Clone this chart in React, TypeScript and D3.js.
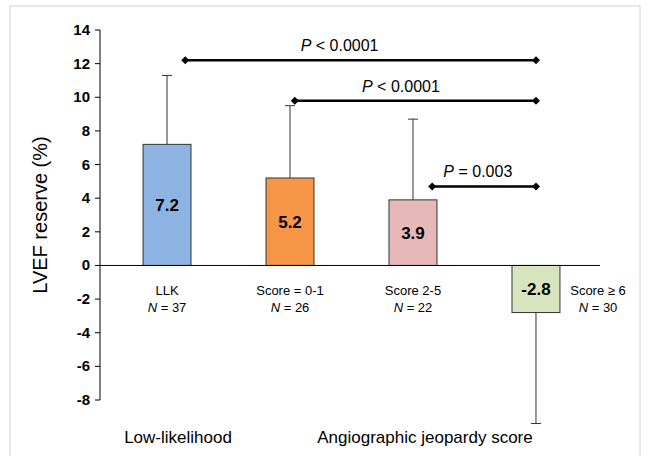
import * as d3 from 'd3';

const categories = ['LLK', 'Score = 0-1', 'Score 2-5', 'Score ≥ 6'];
const ns = [37, 26, 22, 30];
const means = [7.2, 5.2, 3.9, -2.8];
const errs = [4.1, 4.3, 4.8, 6.6];
const colors = ['#8db3e2', '#f79646', '#e6b9b8', '#d7e4bd'];
const yTicks = [14, 12, 10, 8, 6, 4, 2, 0, -2, -4, -6, -8];
// start: fraction across the source bar where the bracket begins
const brackets = [
  { from: 0, to: 3, start: 0.88, y: 12.2, label: '< 0.0001' },
  { from: 1, to: 3, start: 0.6, y: 9.8, label: '< 0.0001' },
  { from: 2, to: 3, start: 0.9, y: 4.7, label: '= 0.003' },
];

export default function App() {
  const y = d3.scaleLinear().domain([-8, 14]).range([400, 30]);
  const x = d3.scaleBand<number>().domain([0, 1, 2, 3]).range([100, 603]).paddingInner(0.61).paddingOuter(0.35);
  const bw = x.bandwidth();
  const cx = (i: number) => (x(i) as number) + bw / 2;
  const font = 'Arial, "Liberation Sans", sans-serif';
  return (
    <svg width={651} height={456} style={{ position: 'absolute', left: 0, top: 0, fontFamily: font }}>
      <rect x={0} y={0} width={651} height={456} fill="#fff" />
      <rect x={10} y={6} width={630} height={460} fill="none" stroke="#d0d0d0" />
      <line x1={100} x2={100} y1={y(14)} y2={y(-8)} stroke="#000" />
      {yTicks.map(t => (
        <g key={t}>
          <line x1={95} x2={100} y1={y(t)} y2={y(t)} stroke="#000" />
          <text x={90} y={y(t) + 5} textAnchor="end" fontSize={15} fontWeight="bold">{t}</text>
        </g>
      ))}
      <text transform={`translate(47,${y(3)}) rotate(-90)`} textAnchor="middle" fontSize={20}>LVEF reserve (%)</text>
      {means.map((m, i) => (
        <g key={i}>
          <line x1={cx(i)} x2={cx(i)} y1={y(m)} y2={y(m + Math.sign(m) * errs[i])} stroke="#333" />
          <line x1={cx(i) - 5} x2={cx(i) + 5} y1={y(m + Math.sign(m) * errs[i])} y2={y(m + Math.sign(m) * errs[i])} stroke="#333" />
          <rect x={x(i)} y={y(Math.max(m, 0))} width={bw} height={Math.abs(y(m) - y(0))} fill={colors[i]} stroke="#333" />
          <text x={cx(i)} y={(y(m) + y(0)) / 2 + 6} textAnchor="middle" fontSize={17} fontWeight="bold">{m}</text>
        </g>
      ))}
      <line x1={100} x2={600} y1={y(0)} y2={y(0)} stroke="#000" />
      {categories.map((c, i) => {
        const tx = i === 3 ? 598 : cx(i);
        return (
          <g key={c}>
            <text x={tx} y={295} textAnchor="middle" fontSize={13}>{c}</text>
            <text x={tx} y={312} textAnchor="middle" fontSize={13}><tspan fontStyle="italic">N</tspan> = {ns[i]}</text>
          </g>
        );
      })}
      {brackets.map((b, i) => {
        const x1 = (x(b.from) as number) + bw * b.start, x2 = cx(b.to);
        return (
          <g key={i}>
            <line x1={x1} x2={x2} y1={y(b.y)} y2={y(b.y)} stroke="#000" strokeWidth={2.5} />
            {[x1, x2].map((px, k) => (
              <path key={k} d={`M${px - 4},${y(b.y)}L${px},${y(b.y) - 4}L${px + 4},${y(b.y)}L${px},${y(b.y) + 4}Z`} />
            ))}
            <text x={x1 + (x2 - x1) * 0.44} y={y(b.y) - 9} textAnchor="middle" fontSize={16}><tspan fontStyle="italic">P</tspan> {b.label}</text>
          </g>
        );
      })}
      <text x={178} y={443} textAnchor="middle" fontSize={17}>Low-likelihood</text>
      <text x={425} y={443} textAnchor="middle" fontSize={17}>Angiographic jeopardy score</text>
    </svg>
  );
}
